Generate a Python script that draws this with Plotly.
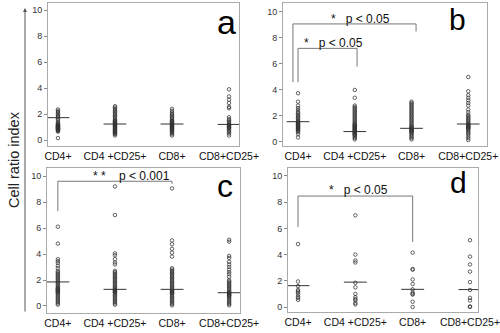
import plotly.graph_objects as go

W, H = 500, 333

categories = ["CD4+", "CD4 +CD25+", "CD8+", "CD8+CD25+"]
y_ticks = [0, 2, 4, 6, 8, 10]

# ---- panel a ----
a_cd4 = [0.15, 0.65, 0.7, 0.75, 0.8, 0.82, 0.85, 0.88, 0.9, 0.92, 0.95, 0.98, 1.0, 1.02, 1.05, 1.08,
         1.1, 1.12, 1.15, 1.2, 1.25, 1.3, 1.4, 1.55, 1.65, 1.75, 1.85, 1.95, 2.05, 2.15, 2.25, 2.35]
a_cd4cd25 = [0.35, 0.45, 0.5, 0.55, 0.6, 0.65, 0.7, 0.75, 0.8, 0.85, 0.9, 0.95, 1.0, 1.05, 1.1, 1.15,
             1.2, 1.25, 1.3, 1.35, 1.4, 1.45, 1.5, 1.6, 1.7, 1.8, 1.9, 2.0, 2.1, 2.2, 2.3, 2.4, 2.5, 2.6]
a_cd8 = [0.35, 0.45, 0.55, 0.62, 0.7, 0.75, 0.8, 0.85, 0.9, 0.95, 1.0, 1.05, 1.1, 1.15, 1.2, 1.25,
         1.3, 1.35, 1.4, 1.45, 1.5, 1.6, 1.7, 1.8, 1.9, 2.0, 2.1, 2.25, 2.4]
a_cd8cd25 = [0.35, 0.5, 0.6, 0.7, 0.8, 0.9, 0.95, 1.0, 1.05, 1.1, 1.15, 1.2, 1.3, 1.4, 1.5, 1.6,
             1.75, 2.45, 2.55, 2.85, 3.1, 3.35, 3.9]
a_means = [1.72, 1.23, 1.23, 1.2]

# ---- panel b ----
b_cd4 = [0.35, 0.6, 0.75, 0.85, 0.9, 0.95, 1.0, 1.05, 1.1, 1.15, 1.2, 1.25, 1.3, 1.35, 1.4, 1.45,
         1.5, 1.55, 1.6, 1.7, 1.8, 1.9, 2.0, 2.1, 2.2, 2.3, 2.45, 2.6, 2.8, 3.1, 3.75]
b_cd4cd25 = [0.2, 0.3, 0.4, 0.5, 0.55, 0.6, 0.65, 0.7, 0.75, 0.8, 0.85, 0.9, 0.95, 1.0, 1.05, 1.1,
             1.15, 1.2, 1.25, 1.3, 1.35, 1.4, 1.5, 1.6, 1.7, 1.8, 1.9, 2.0, 2.1, 2.2, 2.3, 2.4,
             2.5, 2.6, 2.7, 2.8, 3.4, 4.0]
b_cd8 = [0.2, 0.3, 0.4, 0.5, 0.6, 0.7, 0.75, 0.8, 0.85, 0.9, 0.95, 1.0, 1.05, 1.1, 1.15, 1.2, 1.3,
         1.4, 1.5, 1.6, 1.7, 1.8, 1.9, 2.0, 2.1, 2.2, 2.3, 2.4, 2.5, 2.6, 2.7, 2.8, 2.9, 3.0, 3.1]
b_cd8cd25 = [0.15, 0.3, 0.45, 0.6, 0.7, 0.8, 0.9, 1.0, 1.05, 1.1, 1.15, 1.2, 1.25, 1.3, 1.35, 1.4,
             1.5, 1.6, 1.7, 1.8, 1.9, 2.0, 2.1, 2.3, 2.5, 2.8, 3.0, 3.2, 3.4, 3.6, 3.9, 5.0]
b_means = [1.56, 0.8, 1.05, 1.38]

# ---- panel c ----
c_cd4 = [0.1, 0.2, 0.3, 0.4, 0.5, 0.6, 0.7, 0.8, 0.9, 1.0, 1.05, 1.1, 1.15, 1.2, 1.25, 1.3, 1.35,
         1.4, 1.5, 1.6, 1.7, 1.8, 1.9, 2.0, 2.1, 2.2, 2.3, 2.4, 2.5, 2.6, 2.7, 2.9, 3.1, 3.3,
         3.45, 3.6, 4.8, 6.1]
c_cd4cd25 = [0.1, 0.2, 0.3, 0.4, 0.5, 0.6, 0.7, 0.8, 0.9, 1.0, 1.05, 1.1, 1.15, 1.2, 1.25, 1.3,
             1.4, 1.5, 1.6, 1.7, 1.8, 1.9, 2.0, 2.1, 2.2, 2.3, 2.4, 2.5, 2.6, 2.7, 3.2, 3.35,
             3.6, 3.9, 4.05, 7.0, 9.2]
c_cd8 = [0.05, 0.15, 0.25, 0.35, 0.45, 0.55, 0.65, 0.75, 0.85, 0.95, 1.0, 1.05, 1.1, 1.15, 1.2,
         1.3, 1.4, 1.5, 1.6, 1.7, 1.8, 1.9, 2.0, 2.1, 2.2, 2.3, 2.4, 2.5, 2.6, 2.7, 2.8, 2.9,
         3.8, 4.1, 4.4, 4.75, 5.05, 9.05]
c_cd8cd25 = [0.05, 0.15, 0.25, 0.35, 0.45, 0.55, 0.65, 0.75, 0.8, 0.85, 0.9, 0.95, 1.0, 1.05,
             1.1, 1.2, 1.3, 1.4, 1.5, 1.6, 1.7, 1.8, 1.9, 2.0, 2.25, 2.45, 2.6, 2.8, 3.0, 3.2,
             3.4, 3.7, 3.85, 4.95, 5.1]
c_means = [1.85, 1.28, 1.28, 1.02]

# ---- panel d ----
d_cd4 = [0.55, 0.7, 0.8, 0.95, 1.1, 1.2, 1.3, 1.6, 1.95, 4.8]
d_cd4cd25 = [0.2, 0.3, 0.5, 0.6, 0.75, 1.0, 1.5, 1.85, 3.4, 3.55, 4.0, 7.0]
d_cd8 = [0.0, 0.4, 0.95, 1.0, 1.1, 1.35, 1.75, 2.1, 2.85, 2.9, 4.15]
d_cd8cd25 = [0.0, 0.05, 0.5, 0.7, 1.3, 1.9, 2.7, 3.25, 3.85, 5.1]
d_means = [1.63, 1.9, 1.35, 1.33]

panel_letters = ["a", "b", "c", "d"]
# significance brackets: (panel, from_cat, to_cat, height, left_bottom, right_bottom, label)
brackets = [
    (1, -0.09, 2.08, 9.08, 4.6, 8.5, "*   p < 0.05"),
    (1, 0.0, 1.04, 7.2, 4.6, 5.8, "*   p < 0.05"),
    (2, 0.0, 2.0, 9.6, 7.3, 9.4, "* *    p < 0.001"),
    (3, 0.0, 2.0, 8.47, 6.1, 4.96, "*   p < 0.05"),
]

panels = [
    ([a_cd4, a_cd4cd25, a_cd8, a_cd8cd25], a_means),
    ([b_cd4, b_cd4cd25, b_cd8, b_cd8cd25], b_means),
    ([c_cd4, c_cd4cd25, c_cd8, c_cd8cd25], c_means),
    ([d_cd4, d_cd4cd25, d_cd8, d_cd8cd25], d_means),
]

# layout geometry (pixels)
frames = [  # x0, x1, ytop, ybottom
    (48, 239, 3, 146),
    (283, 487, 3, 146),
    (47, 240, 168, 313),
    (288, 478, 168, 312),
]
xranges = [[-0.175, 3.175], [-0.265, 3.33], [-0.19, 3.19], [-0.175, 3.14]]
yranges = [[-0.46, 10.54], [-0.31, 10.69], [-0.54, 10.62], [-0.38, 10.61]]

FONT = "Liberation Sans, Arial, sans-serif"

fig = go.Figure()
layout = dict(width=W, height=H, margin=dict(l=0, r=0, t=0, b=0),
              paper_bgcolor="white", plot_bgcolor="white", showlegend=False)

for i, (groups, means) in enumerate(panels):
    sfx = "" if i == 0 else str(i + 1)
    xa, ya = "x" + sfx, "y" + sfx
    for j, vals in enumerate(groups):
        fig.add_trace(go.Scatter(
            x=[j] * len(vals), y=vals, mode="markers", xaxis=xa, yaxis=ya,
            marker=dict(symbol="circle-open", size=3.5, color="rgba(50,50,50,0.75)",
                        line=dict(width=1)),
            hoverinfo="skip"))
    mx, my = [], []
    for j, m in enumerate(means):
        mx += [j - 0.2, j + 0.2, None]
        my += [m, m, None]
    fig.add_trace(go.Scatter(x=mx, y=my, mode="lines", xaxis=xa, yaxis=ya,
                             line=dict(color="#333", width=1), hoverinfo="skip"))
    x0, x1, yt, yb = frames[i]
    layout["xaxis" + sfx] = dict(
        domain=[x0 / W, x1 / W], range=xranges[i], anchor=ya, automargin=False,
        tickvals=[0, 1, 2, 3], ticktext=categories, ticks="", tickangle=0,
        ticklabeloverflow="allow",
        tickfont=dict(family=FONT, size=10.5, color="#111"),
        showgrid=False, zeroline=False, showline=True, mirror=True,
        linecolor="#aaa", linewidth=1)
    layout["yaxis" + sfx] = dict(
        domain=[1 - yb / H, 1 - yt / H], range=yranges[i], anchor=xa, automargin=False,
        tickvals=y_ticks, ticks="outside", ticklen=3, tickcolor="#888",
        tickfont=dict(family=FONT, size=9, color="#333"),
        showgrid=False, zeroline=False, showline=True, mirror=True,
        linecolor="#aaa", linewidth=1)

fig.update_layout(**layout)

shapes = []
annotations = []
for (p, xa_, xb_, h, lb, rb, label) in brackets:
    sfx = "" if p == 0 else str(p + 1)
    xr, yr = "x" + sfx, "y" + sfx
    for (ax0, ay0, ax1, ay1) in [(xa_, lb, xa_, h), (xa_, h, xb_, h), (xb_, h, xb_, rb)]:
        shapes.append(dict(type="line", xref=xr, yref=yr, x0=ax0, y0=ay0, x1=ax1, y1=ay1,
                           line=dict(color="#777", width=1)))

# significance labels (paper pixel positions)
sig_pos = [(360, 19), (333, 43), (131, 176), (358, 190)]
for (px, py), br in zip(sig_pos, brackets):
    annotations.append(dict(text=br[6], x=px / W, y=1 - py / H, xref="paper", yref="paper",
                            showarrow=False, xanchor="center", yanchor="middle",
                            font=dict(family=FONT, size=12, color="#111")))

letter_pos = [(226, 22, 34), (457, 20, 30), (225, 186, 32), (458, 182, 30)]
for (px, py, fs), t in zip(letter_pos, panel_letters):
    annotations.append(dict(text=t, x=px / W, y=1 - py / H, xref="paper", yref="paper",
                            showarrow=False, xanchor="center", yanchor="middle",
                            font=dict(family=FONT, size=fs, color="#000")))

# y axis title and arrow
annotations.append(dict(text="Cell ratio index", x=14 / W, y=1 - 160 / H, xref="paper",
                        yref="paper", showarrow=False, textangle=-90,
                        xanchor="center", yanchor="middle",
                        font=dict(family=FONT, size=14.5, color="#222")))
annotations.append(dict(x=25 / W, y=1 - 8 / H, ax=0, ay=305,
                        xref="paper", yref="paper", axref="pixel", ayref="pixel",
                        text="", showarrow=True, arrowhead=2, arrowsize=0.8,
                        arrowwidth=1, arrowcolor="#555"))

fig.update_layout(shapes=shapes, annotations=annotations)
fig.write_html("out.html", config={"displayModeBar": False},
               post_script="document.body.style.margin='0';document.body.style.overflow='hidden';")
